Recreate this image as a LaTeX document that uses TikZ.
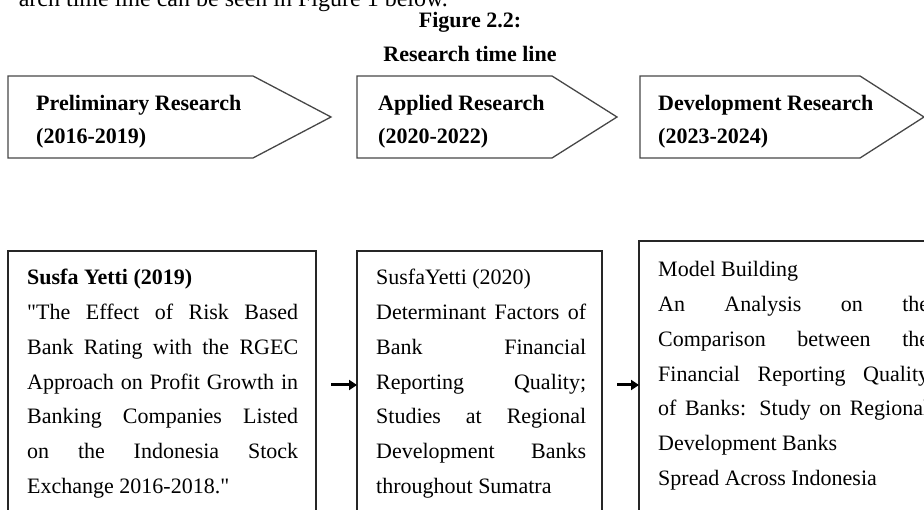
\documentclass[tikz,border=0pt]{standalone}
\usepackage{fontspec}
% straight quotes are kept as typed
\setmainfont{Liberation Serif}[Ligatures=TeXOff]
\usetikzlibrary{arrows.meta}

% a line stretched to the full measure (justified), and a plain last line
\newcommand{\fulline}[1]{\makebox[\linewidth][s]{#1}\par}
\newcommand{\lastline}[1]{#1\par}

\begin{document}
\begin{tikzpicture}[x=1pt,y=-1pt,
  penta/.style={draw=black!72, line width=1.3pt, line join=miter},
  boxframe/.style={draw=black!85, line width=1.3pt, inner sep=0pt, outer sep=0pt, anchor=north west},
  bodytext/.style={anchor=base west, inner sep=0pt, font=\fontsize{22pt}{34.7pt}\selectfont},
  headtext/.style={anchor=base west, inner sep=0pt, font=\bfseries\fontsize{22pt}{33pt}\selectfont},
  link/.style={-{Triangle[length=8pt,width=10pt]}, line width=3pt, black}]

\useasboundingbox (0,0) rectangle (924,510);
\clip (0,0) rectangle (924,510);

% running text above the figure
\node[anchor=base east, inner sep=0pt, font=\fontsize{24pt}{28pt}\selectfont] (intro) at (448,7)
  {arch time line can be seen in Figure 1 below.};

% caption
\node[anchor=base, inner sep=0pt, font=\bfseries\fontsize{22pt}{34pt}\selectfont] (title) at (470,28)
  {\parbox[t]{300pt}{\centering Figure 2.2:\par Research time line\par}};

% phase arrows
\draw[penta] (8,76) -- (253,76) -- (331,117) -- (253,158) -- (8,158) -- cycle;
\draw[penta] (357,76) -- (552,76) -- (617,117) -- (552,158) -- (357,158) -- cycle;
\draw[penta] (640,76) -- (860,76) -- (924,117) -- (860,158) -- (640,158) -- cycle;

\node[headtext] (p1) at (36,111)
  {\parbox[t]{260pt}{Preliminary Research\par (2016-2019)\par}};
\node[headtext] (p2) at (378,111)
  {\parbox[t]{220pt}{Applied Research\par (2020-2022)\par}};
\node[headtext] (p3) at (658,111)
  {\parbox[t]{240pt}{Development Research\par (2023-2024)\par}};

% study boxes
\node[boxframe, minimum width=308pt, minimum height=268pt] (b1) at (8,251) {};
\node[boxframe, minimum width=245pt, minimum height=268pt] (b2) at (357,251) {};
\node[boxframe, minimum width=308pt, minimum height=288pt] (b3) at (639,241) {};

\node[bodytext] (t1) at (27,285) {\parbox[t]{271pt}{\parindent0pt
  \lastline{\textbf{Susfa Yetti (2019)}}
  \fulline{"The Effect of Risk Based}
  \fulline{Bank Rating with the RGEC}
  \fulline{Approach on Profit Growth in}
  \fulline{Banking Companies Listed}
  \fulline{on the Indonesia Stock}
  \lastline{Exchange 2016-2018."}}};

\node[bodytext] (t2) at (376,285) {\parbox[t]{210pt}{\parindent0pt
  \lastline{SusfaYetti (2020)}
  \fulline{Determinant Factors of}
  \fulline{Bank Financial}
  \fulline{Reporting Quality;}
  \fulline{Studies at Regional}
  \fulline{Development Banks}
  \lastline{throughout Sumatra}}};

\node[bodytext] (t3) at (658,277) {\parbox[t]{271pt}{\parindent0pt
  \lastline{Model Building}
  \fulline{An Analysis on the}
  \fulline{Comparison between the}
  \fulline{Financial Reporting Quality}
  \fulline{of Banks: Study on Regional}
  \lastline{Development Banks}
  \lastline{Spread Across Indonesia}}};

% links between the studies
\draw[link] ([xshift=15pt]b1.east) -- (b2.west);
\draw[link] ([xshift=15pt]b2.east) -- (b3.west);
\end{tikzpicture}
\end{document}
